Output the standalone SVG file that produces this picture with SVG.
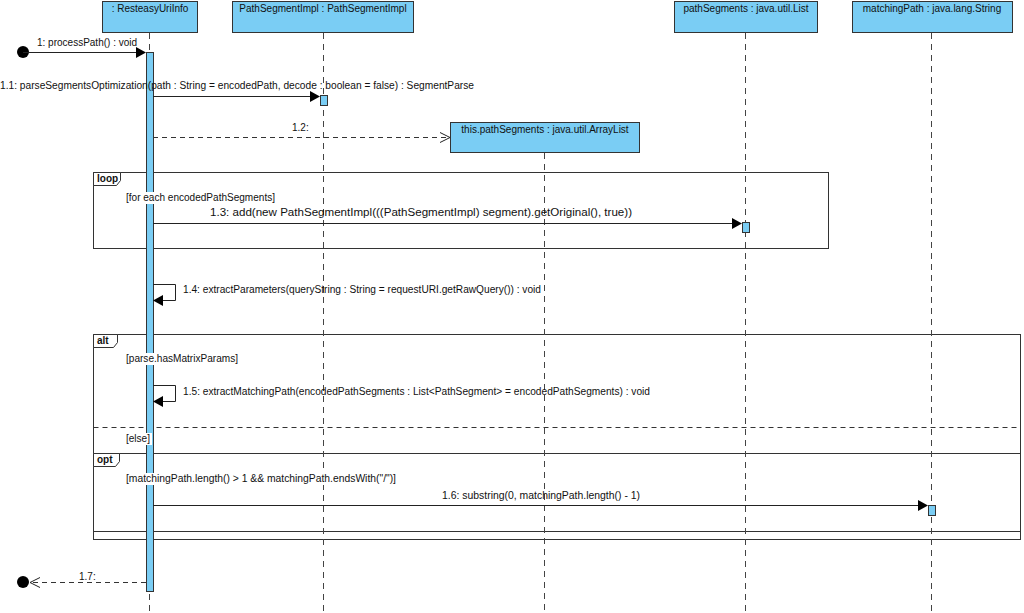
<svg xmlns="http://www.w3.org/2000/svg" width="1024" height="613" viewBox="0 0 1024 613">
<style>
text{font-family:"Liberation Sans","DejaVu Sans",sans-serif;font-size:10px;fill:#111}
.hdr{fill:#7ACDF4;stroke:#333;stroke-width:1}
.life{stroke:#444;stroke-width:1;stroke-dasharray:6,5;fill:none}
.act{fill:#7ACDF4;stroke:#333;stroke-width:1}
.msg{stroke:#222;stroke-width:1;fill:none}
.ret{stroke:#333;stroke-width:1;fill:none;stroke-dasharray:5,4}
.frame{fill:none;stroke:#333;stroke-width:1}
.tab{fill:#fff;stroke:#333;stroke-width:1}
.bg{fill:#fff}
.head{fill:#000}
.mid{text-anchor:middle}
.ftxt{font-weight:bold;font-size:10px}
</style>
<g id="frames">
<rect class="frame" x="93.5" y="172.5" width="735" height="76"/>
<path class="tab" d="M93.5,172.5 H120.5 V180.5 L116.5,185.5 H93.5 Z"/>
<text class="ftxt" x="97" y="182">loop</text>
<rect class="frame" x="93.5" y="334.5" width="927" height="205"/>
<path class="tab" d="M93.5,334.5 H117.5 V342.5 L113.5,347.5 H93.5 Z"/>
<text class="ftxt" x="97" y="344">alt</text>
<line x1="93.5" y1="427.5" x2="1020.5" y2="427.5" class="ret"/>
<rect class="frame" x="93.5" y="453.5" width="927" height="78"/>
<path class="tab" d="M93.5,453.5 H119.5 V461.5 L115.5,466.5 H93.5 Z"/>
<text class="ftxt" x="97" y="463">opt</text>
</g>
<g id="n_resteasy">
<rect class="hdr" x="102.5" y="1.5" width="95" height="31"/>
<text class="mid" x="150" y="12">: ResteasyUriInfo</text>
<line class="life" x1="149.5" y1="33" x2="149.5" y2="613"/>
<rect class="act" x="146.5" y="52.5" width="7" height="539"/>
</g>
<g id="n_pathsegimpl">
<rect class="hdr" x="232.5" y="1.5" width="181" height="31"/>
<text class="mid" x="323" y="12">PathSegmentImpl : PathSegmentImpl</text>
<line class="life" x1="323.5" y1="33" x2="323.5" y2="613"/>
<rect class="act" x="320.5" y="95.5" width="7" height="10"/>
</g>
<g id="n_arraylist">
<rect class="hdr" x="450.5" y="122.5" width="189" height="30"/>
<text class="mid" x="545" y="133">this.pathSegments : java.util.ArrayList</text>
<line class="life" x1="544.5" y1="153" x2="544.5" y2="613"/>
</g>
<g id="n_pathsegments">
<rect class="hdr" x="674.5" y="1.5" width="143" height="31"/>
<text class="mid" x="746" y="12">pathSegments : java.util.List</text>
<line class="life" x1="745.5" y1="33" x2="745.5" y2="613"/>
<rect class="act" x="742.5" y="222.5" width="7" height="10"/>
</g>
<g id="n_matchingpath">
<rect class="hdr" x="852.5" y="1.5" width="160" height="31"/>
<text class="mid" x="932" y="12">matchingPath : java.lang.String</text>
<line class="life" x1="931.5" y1="33" x2="931.5" y2="613"/>
<rect class="act" x="928.5" y="505.5" width="7" height="10"/>
</g>
<g id="guards">
<rect class="bg" x="125" y="192" width="151" height="12"/>
<text x="126" y="201" textLength="149" lengthAdjust="spacingAndGlyphs">[for each encodedPathSegments]</text>
<rect class="bg" x="125" y="353" width="114" height="12"/>
<text x="126" y="362" textLength="112" lengthAdjust="spacingAndGlyphs">[parse.hasMatrixParams]</text>
<rect class="bg" x="125" y="433" width="27" height="12"/>
<text x="126" y="442" textLength="24" lengthAdjust="spacingAndGlyphs">[else]</text>
<rect class="bg" x="125" y="473" width="272" height="12"/>
<text x="126" y="482" textLength="270" lengthAdjust="spacingAndGlyphs">[matchingPath.length() &gt; 1 &amp;&amp; matchingPath.endsWith("/")]</text>
</g>
<g id="connectors">
<circle cx="23" cy="52" r="6" fill="#000"/>
<line class="msg" x1="23" y1="52.5" x2="138" y2="52.5"/>
<path class="head" d="M136,47 L146,52.5 L136,58 Z"/>
<text x="37" y="46">1: processPath() : void</text>

<line class="msg" x1="153" y1="96.5" x2="311" y2="96.5"/>
<path class="head" d="M310,91 L320,96.5 L310,102 Z"/>
<text x="0" y="89" textLength="474" lengthAdjust="spacingAndGlyphs">1.1: parseSegmentsOptimization(path : String = encodedPath, decode : boolean = false) : SegmentParse</text>

<line class="ret" x1="153" y1="137.5" x2="449" y2="137.5"/>
<path class="msg" d="M440,132.5 L450,137.5 L440,142.5"/>
<text x="292" y="131">1.2:</text>

<line class="msg" x1="153" y1="223.5" x2="733" y2="223.5"/>
<path class="head" d="M732,218 L742,223.5 L732,229 Z"/>
<text x="210" y="216" textLength="422" lengthAdjust="spacingAndGlyphs">1.3: add(new PathSegmentImpl(((PathSegmentImpl) segment).getOriginal(), true))</text>

<path class="msg" d="M153,284.5 H175.5 V300.5 H162"/>
<path class="head" d="M163,295 L153,300.5 L163,306 Z"/>
<text x="183" y="293" textLength="358" lengthAdjust="spacingAndGlyphs">1.4: extractParameters(queryString : String = requestURI.getRawQuery()) : void</text>

<path class="msg" d="M153,385.5 H175.5 V401.5 H162"/>
<path class="head" d="M163,396 L153,401.5 L163,407 Z"/>
<text x="183" y="395" textLength="467" lengthAdjust="spacingAndGlyphs">1.5: extractMatchingPath(encodedPathSegments : List&lt;PathSegment&gt; = encodedPathSegments) : void</text>

<line class="msg" x1="153" y1="505.5" x2="919" y2="505.5"/>
<path class="head" d="M918,500 L928,505.5 L918,511 Z"/>
<text x="442" y="499" textLength="198" lengthAdjust="spacingAndGlyphs">1.6: substring(0, matchingPath.length() - 1)</text>

<line class="ret" x1="146" y1="582.5" x2="31" y2="582.5"/>
<path class="msg" d="M40,577.5 L30,582.5 L40,587.5"/>
<circle cx="23" cy="582" r="6" fill="#000"/>
<text x="79" y="580">1.7:</text>
</g>
</svg>
